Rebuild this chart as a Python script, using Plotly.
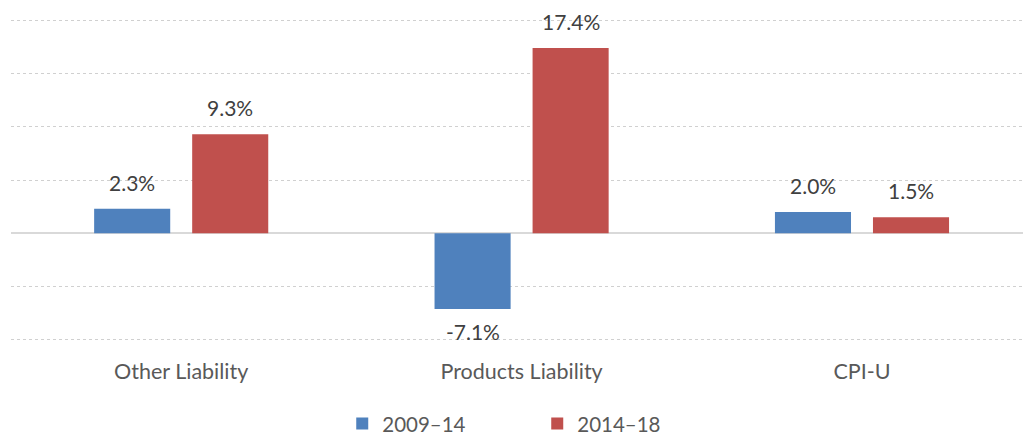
import plotly.graph_objects as go

categories = ["Other Liability", "Products Liability", "CPI-U"]
series_names = ["2009–14", "2014–18"]
vals_0914 = [2.3, -7.1, 2.0]
vals_1418 = [9.3, 17.4, 1.5]
colors = ["#4F81BD", "#C0504D"]

font_family = "Lato, Open Sans, sans-serif"
fig = go.Figure()
for name, vals, col in zip(series_names, [vals_0914, vals_1418], colors):
    fig.add_trace(go.Bar(x=list(range(len(categories))), y=vals, name=name,
                         marker=dict(color=col, line=dict(width=0))))

shifts = [-49, 49]
for vals, xs in zip([vals_0914, vals_1418], shifts):
    for i, v in enumerate(vals):
        fig.add_annotation(x=i, y=v, text=f"{v:.1f}%", showarrow=False,
                           xshift=xs, yshift=(12 if v >= 0 else -8),
                           yanchor="bottom" if v >= 0 else "top",
                           font=dict(size=21, color="#404040", family=font_family))

fig.update_layout(
    width=1023, height=436,
    margin=dict(l=11, r=0, t=17, b=93),
    plot_bgcolor="white", paper_bgcolor="white",
    barmode="group", bargap=0.424, bargroupgap=0.224,
    font=dict(family=font_family, color="#595959", size=20),
    xaxis=dict(range=[-0.5, 2.473], tickmode="array",
               tickvals=list(range(len(categories))), ticktext=categories,
               showgrid=False, zeroline=False, showline=False, ticks="",
               automargin=False,
               ticklabelstandoff=13, tickfont=dict(size=21.5, color="#595959")),
    yaxis=dict(range=[-10.3, 20.3], dtick=5, showticklabels=False, automargin=False,
               showgrid=True, gridcolor="#D0D0D0", griddash="dot", gridwidth=1,
               zeroline=True, zerolinecolor="#D9D9D9", zerolinewidth=2),
    legend=dict(orientation="h", x=0.52, xanchor="center",
                yref="container", y=0.028, yanchor="middle",
                entrywidth=150, font=dict(size=20.5, color="#595959")),
    showlegend=True,
)
fig.write_html("out.html", post_script="document.body.style.margin='0';",
               config={"displayModeBar": False})
